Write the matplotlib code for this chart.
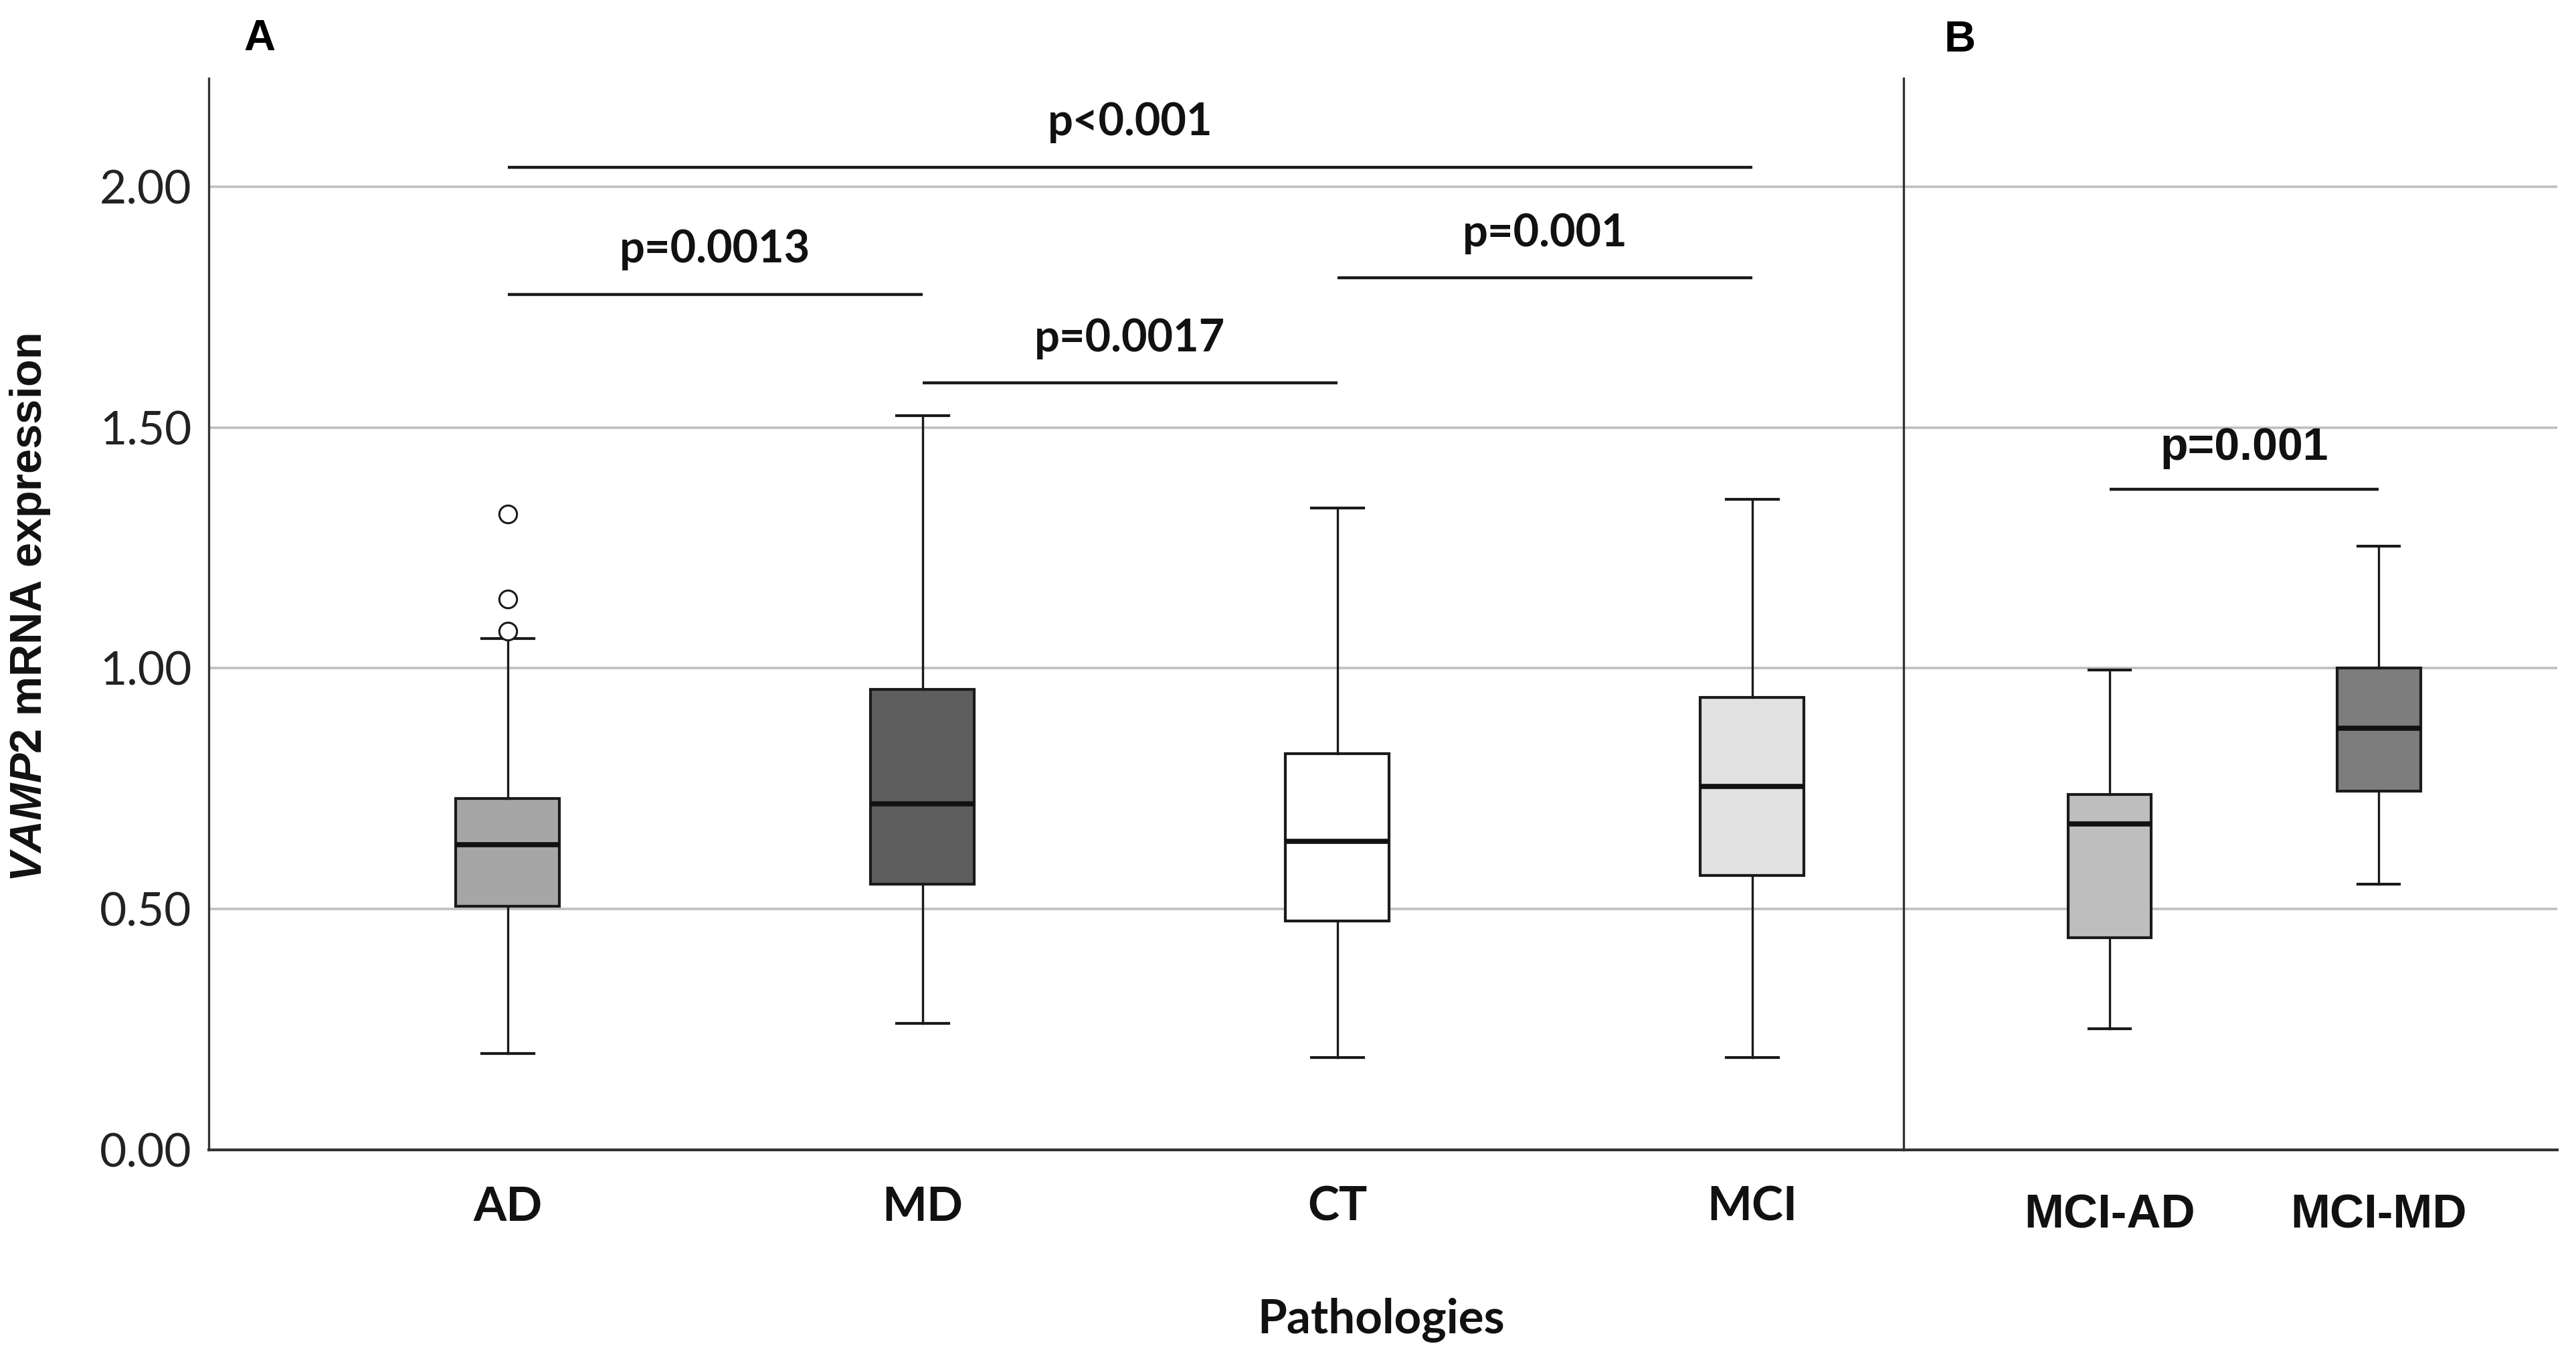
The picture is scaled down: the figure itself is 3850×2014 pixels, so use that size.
import matplotlib
matplotlib.use('Agg')
import matplotlib.pyplot as plt

# panel A - pathologies
groups_a = ['AD', 'MD', 'CT', 'MCI']
low_a = [0.200, 0.262, 0.191, 0.191]
q1_a = [0.506, 0.551, 0.475, 0.569]
med_a = [0.634, 0.719, 0.641, 0.754]
q3_a = [0.730, 0.956, 0.823, 0.939]
high_a = [1.062, 1.524, 1.333, 1.351]
fliers_a = [[1.077, 1.143, 1.320], [], [], []]
colors_a = ['#a6a6a6', '#5e5e5e', '#ffffff', '#e1e1e1']

# panel B - MCI converters
groups_b = ['MCI-AD', 'MCI-MD']
low_b = [0.252, 0.551]
q1_b = [0.441, 0.745]
med_b = [0.676, 0.875]
q3_b = [0.738, 1.000]
high_b = [0.996, 1.254]
fliers_b = [[], []]
colors_b = ['#bebebe', '#7d7d7d']

# significance bars: left group, right group, bar height, text
sig_a = [(0, 3, 2.040, 'p<0.001'),
         (0, 1, 1.776, 'p=0.0013'),
         (1, 2, 1.592, 'p=0.0017'),
         (2, 3, 1.810, 'p=0.001')]
sig_b = [(0, 1, 1.372, 'p=0.001')]

yticks = [0.0, 0.5, 1.0, 1.5, 2.0]

plt.rcParams['mathtext.fontset'] = 'custom'
plt.rcParams['mathtext.it'] = 'Liberation Sans:italic:bold'
plt.rcParams['mathtext.rm'] = 'Liberation Sans:bold'

LINE = '#1a1a1a'


def draw_panel(ax, groups, lo, q1, med, q3, hi, fliers, colors, width, sig,
               font, lab_size, p_size, p_off, pad):
    stats = []
    for i in range(len(groups)):
        stats.append(dict(whislo=lo[i], q1=q1[i], med=med[i], q3=q3[i],
                          whishi=hi[i], fliers=fliers[i]))
    bp = ax.bxp(stats, positions=list(range(len(groups))), widths=width,
                patch_artist=True, manage_ticks=False,
                boxprops=dict(edgecolor=LINE, linewidth=3.0),
                whiskerprops=dict(color=LINE, linewidth=2.4),
                capprops=dict(color=LINE, linewidth=3.0),
                medianprops=dict(color='#111111', linewidth=5.5),
                flierprops=dict(marker='o', markerfacecolor='white',
                                markeredgecolor=LINE, markersize=19,
                                markeredgewidth=2.2))
    for patch, c in zip(bp['boxes'], colors):
        patch.set_facecolor(c)

    for i, j, h, txt in sig:
        ax.plot([i, j], [h, h], color=LINE, lw=3.2, solid_capstyle='butt')
        ax.text((i + j) / 2, h + p_off, txt, ha='center', va='baseline',
                family=font, fontweight='bold', fontsize=p_size, color='#111111')

    ax.set_ylim(0, 2.225)
    ax.set_yticks(yticks)
    ax.yaxis.grid(True, color='#bfbfbf', lw=2.6)
    ax.set_axisbelow(True)
    ax.set_xticks(range(len(groups)))
    ax.set_xticklabels(groups, family=font, fontweight='bold',
                       fontsize=lab_size, color='#111111')
    ax.tick_params(axis='x', length=0, pad=pad)
    for s in ['top', 'right']:
        ax.spines[s].set_visible(False)
    ax.spines['left'].set_color('#333333')
    ax.spines['left'].set_linewidth(2.4)
    ax.spines['bottom'].set_color('#333333')
    ax.spines['bottom'].set_linewidth(3.0)


fig = plt.figure(figsize=(38.5, 20.14), dpi=100)
ax_a = fig.add_axes([0.0810, 0.147, 0.658, 0.795])
ax_b = fig.add_axes([0.739, 0.147, 0.2538, 0.795])

draw_panel(ax_a, groups_a, low_a, q1_a, med_a, q3_a, high_a, fliers_a,
           colors_a, 0.25, sig_a, 'Lato', 51, 48, 0.066, 38)
draw_panel(ax_b, groups_b, low_b, q1_b, med_b, q3_b, high_b, fliers_b,
           colors_b, 0.31, sig_b, 'Liberation Sans', 51, 49, 0.060, 47)

ax_a.set_xlim(-0.721, 3.365)
ax_b.set_xlim(-0.766, 1.664)

ax_a.set_yticklabels(['{:.2f}'.format(v) for v in yticks], family='Lato',
                     fontsize=50, color='#222222')
ax_a.tick_params(axis='y', length=0, pad=18)
ax_b.tick_params(axis='y', length=0, labelleft=False)

fig.text(0.0116, 0.549, r'$\mathit{VAMP2}$ mRNA expression', rotation=90,
         ha='center', va='center', family='Liberation Sans', fontweight='bold',
         fontsize=48, color='#111111')
fig.text(0.536, 0.0109, 'Pathologies', ha='center', va='baseline',
         family='Lato', fontweight='bold', fontsize=51, color='#111111')
fig.text(0.1008, 0.9628, 'A', ha='center', va='baseline',
         family='Liberation Sans', fontweight='bold', fontsize=47)
fig.text(0.7608, 0.9618, 'B', ha='center', va='baseline',
         family='Liberation Sans', fontweight='bold', fontsize=47)

fig.savefig('out.png', dpi=100, facecolor='white')
